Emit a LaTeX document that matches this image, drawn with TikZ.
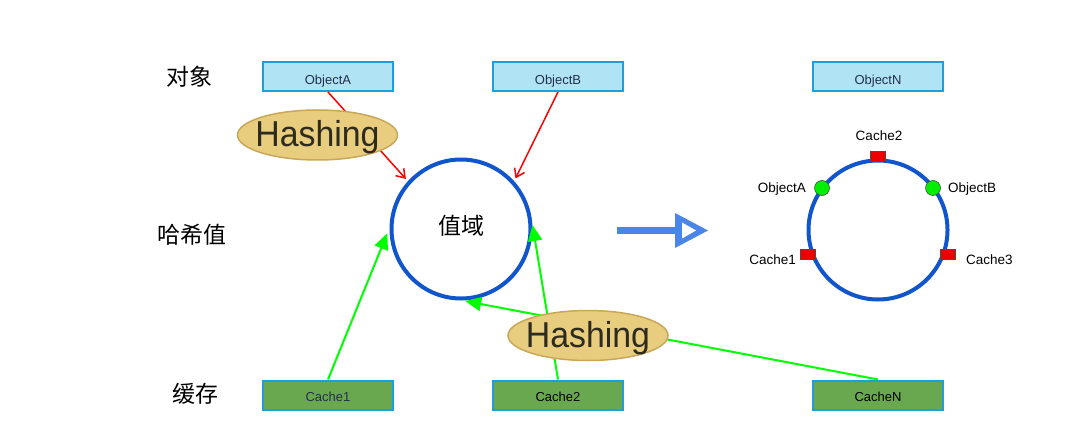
\documentclass[tikz,border=0pt]{standalone}
\usepackage{fontspec}
\setmainfont{Liberation Sans}
\newfontfamily\cjk{Noto Sans CJK SC}
\newfontfamily\hashfont[FakeStretch=0.94]{Liberation Sans}
\usetikzlibrary{arrows.meta,shapes.geometric}
\definecolor{boxblue}{HTML}{B0E4F5}
\definecolor{boxedge}{HTML}{1AA0DC}
\definecolor{cachegreen}{HTML}{6AA84F}
\definecolor{ringblue}{HTML}{1155CC}
\definecolor{arrowblue}{HTML}{4A86E8}
\definecolor{hashfill}{HTML}{E8CD7E}
\definecolor{hashedge}{HTML}{C9A75A}
\definecolor{hashtext}{HTML}{2D2A1E}
\definecolor{linegreen}{HTML}{00FF00}
\definecolor{dotgreen}{HTML}{00EE00}
\definecolor{sqred}{HTML}{EE0000}
\definecolor{navytext}{HTML}{22304A}
\tikzset{
  objbox/.style={draw=boxedge, fill=boxblue, line width=2pt, minimum width=130pt, minimum height=29pt, inner sep=0pt},
  cachebox/.style={draw=boxedge, fill=cachegreen, line width=2pt, minimum width=130pt, minimum height=29pt, inner sep=0pt},
  boxlbl/.style={font=\fontsize{13}{15}\selectfont, text=navytext, inner sep=0pt},
  cjklbl/.style={font=\cjk\fontsize{23}{27}\selectfont, inner sep=0pt},
  ringc/.style={circle, draw=ringblue, line width=4pt, minimum size=139pt, inner sep=0pt},
  hashell/.style={ellipse, draw=hashedge, fill=hashfill, line width=1.5pt, minimum width=160pt, minimum height=50pt, inner sep=0pt},
  hashtxt/.style={font=\hashfont\fontsize{36}{40}\selectfont, text=hashtext, inner sep=0pt},
  redarr/.style={draw=red, line width=1.5pt, -{Straight Barb[length=8pt,width=11pt]}},
  greenarr/.style={draw=linegreen, line width=2pt, -{Triangle[length=16pt,width=14pt]}},
  sq/.style={draw=black!70, fill=sqred, line width=0.6pt, minimum width=15pt, minimum height=10pt, inner sep=0pt},
  dot/.style={circle, draw=black!70, fill=dotgreen, line width=0.6pt, minimum size=15pt, inner sep=0pt},
  ringlbl/.style={font=\fontsize{13.5}{16}\selectfont, inner sep=0pt},
}
\begin{document}
\begin{tikzpicture}[x=1pt,y=-1pt]
\fill[white] (0,0) rectangle (1083,430);
\useasboundingbox (0,0) rectangle (1083,430);
% row labels
\node[cjklbl] (l1) at (189,77) {对象};
\node[cjklbl] (l2) at (191.5,235) {哈希值};
\node[cjklbl] (l3) at (195,394) {缓存};
% object boxes
\node[objbox, label={[boxlbl,yshift=-5pt]center:ObjectA}] (oA) at (328,76.5) {};
\node[objbox, label={[boxlbl,yshift=-5pt]center:ObjectB}] (oB) at (558,76.5) {};
\node[objbox, label={[boxlbl,yshift=-5pt]center:ObjectN}] (oN) at (878,76.5) {};
% cache boxes
\node[cachebox, label={[boxlbl,yshift=-2pt]center:Cache1}] (c1) at (328,395) {};
\node[cachebox, label={[boxlbl,text=black,yshift=-2pt]center:Cache2}] (c2) at (558,395) {};
\node[cachebox, label={[boxlbl,text=black,yshift=-2pt]center:CacheN}] (cN) at (878,395) {};
% value circle
\node[ringc] (val) at (461,229) {};
\node[cjklbl] (valt) at (461,226) {值域};
% connectors
\draw[redarr, shorten >=3pt] (oA.south) -- (val.138);
\draw[redarr, shorten >=3pt] (oB.south) -- (val.42);
\draw[greenarr, shorten >=6pt] (c1.north) -- (val.179);
\draw[greenarr, shorten >=1pt] (c2.north) -- (val.4);
\draw[greenarr, shorten >=3pt] (cN.north) -- (val.-89);
% hashing ellipses
\node[hashell, label={[hashtxt,yshift=-2.5pt]center:Hashing}] (h1) at (317.5,135) {};
\node[hashell, label={[hashtxt,yshift=-2.5pt]center:Hashing}] (h2) at (588,335.5) {};
% big blue arrow
\coordinate (ba) at (617,230.5);
\coordinate (bb) at (678,230.5);
\draw[arrowblue, line width=7pt] (ba) -- (bb);
\fill[arrowblue] (675,213) -- (708,230.5) -- (675,248) -- cycle;
\fill[white] (682,222.5) -- (696,230.5) -- (682,238.5) -- cycle;
% ring
\node[ringc] (ring) at (878,230) {};
\node[sq] (s2) at (878,156) {};
\node[sq] (s1) at (808,254) {};
\node[sq] (s3) at (948,254) {};
\node[dot] (dA) at (822,188) {};
\node[dot] (dB) at (933,188) {};
\node[ringlbl] (t2) at (879,136) {Cache2};
\node[ringlbl, anchor=east] (tA) at (806,189) {ObjectA};
\node[ringlbl, anchor=west] (tB) at (948,189) {ObjectB};
\node[ringlbl, anchor=east] (t1) at (796,260) {Cache1};
\node[ringlbl, anchor=west] (t3) at (966,260) {Cache3};
\end{tikzpicture}
\end{document}
